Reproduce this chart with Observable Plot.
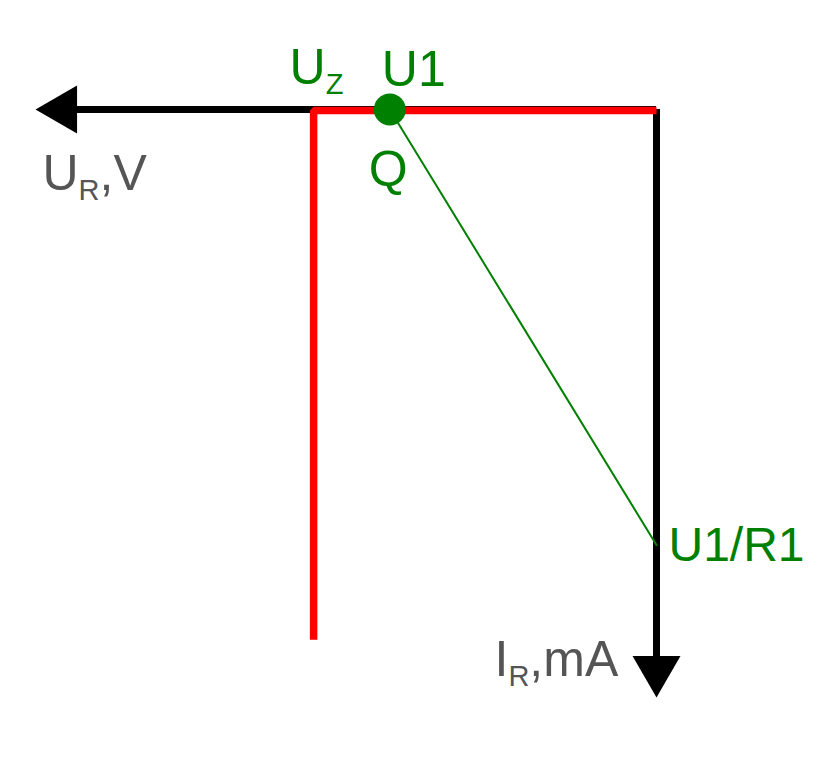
<!DOCTYPE html>
<html>
<head>
<meta charset="utf-8">
<script src="https://cdn.jsdelivr.net/npm/d3@7"></script>
<script src="https://cdn.jsdelivr.net/npm/@observablehq/plot@0.6"></script>
<style>
  html, body { margin: 0; padding: 0; background: #fff; }
  svg { font-family: "Liberation Sans", Arial, sans-serif; }
</style>
</head>
<body>
<div id="chart"></div>
<script>
// Axis extents (arrow tips), in V and mA
const axisTipU = [16.3];
const axisTipI = [27];
// Zener characteristic: breakdown at Uz
const zenerU = [0, 9, 9];
const zenerI = [0, 0, 24.3];
// Load line from U1 (no current) to U1/R1 (short circuit current)
const loadU = [7, 0];
const loadI = [0, 20];
// Operating point Q
const qU = [7];
const qI = [0];
// Labels
const labelText = ["U_Z", "U1", "Q", "U1/R1"];
const labelU = [9, 7, 7, 0];
const labelI = [0, 0, 0, 20];
const axisLabels = ["U_R,V", "I_R,mA"];

const green = "#008000";
const gray = "#555555";

const zener = zenerU.map((u, i) => ({u, i: zenerI[i]}));
const load = loadU.map((u, i) => ({u, i: loadI[i]}));
const q = qU.map((u, i) => ({u, i: qI[i]}));

const plot = Plot.plot({
  width: 828,
  height: 781,
  margin: 0,
  x: {domain: [0, axisTipU[0]], range: [656, 35], axis: null},
  y: {domain: [0, axisTipI[0]], range: [109, 697], axis: null},
  style: {fontFamily: "'Liberation Sans', Arial, sans-serif", background: "#fff"},
  marks: [
    // U axis
    Plot.ruleY([0], {x1: axisTipU[0], x2: 0, stroke: "black", strokeWidth: 7, insetLeft: 30}),
    Plot.dot(axisTipU, {x: d => d, y: 0, symbol: "triangle", r: 17.8, rotate: -90, fill: "black", stroke: "none", dx: 27.7}),
    // I axis
    Plot.ruleX([0], {y1: 0, y2: axisTipI[0], stroke: "black", strokeWidth: 7, insetBottom: 30}),
    Plot.dot(axisTipI, {x: 0, y: d => d, symbol: "triangle", r: 17.8, rotate: 180, fill: "black", stroke: "none", dy: -27.7}),
    // Zener characteristic
    Plot.line(zener, {x: "u", y: "i", stroke: "#ff0000", strokeWidth: 7.5, strokeLinejoin: "miter", strokeLinecap: "butt", dy: 1}),
    // Load line
    Plot.line(load, {x: "u", y: "i", stroke: green, strokeWidth: 2}),
    // Q point
    Plot.dot(q, {x: "u", y: "i", r: 16, fill: green, stroke: "none"}),
    // Labels
    Plot.text([0], {x: labelU[0], y: labelI[0], text: () => labelText[0], fill: green, fontSize: 50, textAnchor: "start", lineAnchor: "bottom", dx: -24, dy: -26}),
    Plot.text([0], {x: labelU[1], y: labelI[1], text: () => labelText[1], fill: green, fontSize: 50, textAnchor: "start", lineAnchor: "bottom", dx: -8, dy: -24}),
    Plot.text([0], {x: labelU[2], y: labelI[2], text: () => labelText[2], fill: green, fontSize: 50, textAnchor: "start", lineAnchor: "bottom", dx: -21, dy: 76}),
    Plot.text([0], {x: labelU[3], y: labelI[3], text: () => labelText[3], fill: green, fontSize: 48, textAnchor: "start", lineAnchor: "bottom", dx: 12, dy: 16}),
    Plot.text([0], {x: axisTipU[0], y: 0, text: () => axisLabels[0], fill: gray, fontSize: 50, textAnchor: "start", lineAnchor: "bottom", dx: 7, dy: 80}),
    Plot.text([0], {x: 0, y: axisTipI[0], text: () => axisLabels[1], fill: gray, fontSize: 50, textAnchor: "start", lineAnchor: "bottom", dx: -162, dy: -22})
  ]
});

// Turn "A_B..." into A with subscript B
d3.select(plot).selectAll("text").each(function() {
  const t = this.textContent;
  const m = /^(.*?)_(\w)(.*)$/.exec(t);
  if (!m) return;
  const sel = d3.select(this);
  sel.text(null);
  sel.append("tspan").text(m[1]);
  sel.append("tspan").attr("font-size", 29).attr("dy", 10).text(m[2]);
  if (m[3]) sel.append("tspan").attr("dy", -10).text(m[3]);
});

document.getElementById("chart").appendChild(plot);
</script>
</body>
</html>
